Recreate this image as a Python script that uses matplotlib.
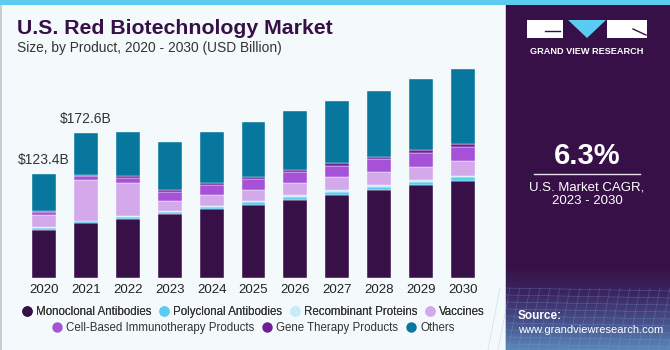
import numpy as np
import matplotlib
matplotlib.use("Agg")
import matplotlib.pyplot as plt
from matplotlib.patches import Rectangle, Polygon
from matplotlib.lines import Line2D

plt.rcParams['font.family'] = ['Liberation Sans', 'DejaVu Sans']

# ---------------- data (USD Billion) ----------------
years = ['2020', '2021', '2022', '2023', '2024', '2025',
         '2026', '2027', '2028', '2029', '2030']
monoclonal = [57.8, 65.3, 70.8, 76.7, 81.9, 87.0, 93.4, 99.3, 104.8, 110.8, 115.9]
polyclonal = [2.4, 2.4, 2.4, 2.4, 2.8, 4.0, 3.6, 3.6, 3.6, 3.6, 4.4]
recombinant = [1.2, 0.8, 1.2, 1.2, 1.2, 1.2, 2.0, 2.0, 2.0, 2.4, 1.6]
vaccines = [13.1, 48.3, 38.4, 11.9, 13.1, 12.7, 13.8, 15.0, 15.4, 15.8, 17.4]
cell_based = [3.6, 4.7, 6.3, 10.7, 11.5, 12.7, 13.4, 13.8, 15.4, 16.2, 16.6]
gene_therapy = [1.6, 1.2, 2.0, 2.4, 2.0, 2.4, 2.8, 3.2, 3.2, 3.6, 3.2]
others = [43.9, 49.9, 52.6, 56.6, 61.3, 65.3, 69.2, 73.6, 77.5, 84.3, 89.0]

segment_names = ['Monoclonal Antibodies', 'Polyclonal Antibodies', 'Recombinant Proteins',
                 'Vaccines', 'Cell-Based Immunotherapy Products', 'Gene Therapy Products',
                 'Others']
segment_values = [monoclonal, polyclonal, recombinant, vaccines,
                  cell_based, gene_therapy, others]
segment_colors = ['#361046', '#5ccbf2', '#c6ecfa', '#d4a9ec', '#a552d9', '#6d1f95', '#08779e']

labels_idx = [0, 1]
labels_txt = ['$123.4B', '$172.6B']

# ---------------- figure ----------------
W, H = 670, 350
fig = plt.figure(figsize=(W / 100, H / 100), dpi=100)
fig.patch.set_facecolor('#f4f9fc')

# background decorations in pixel coordinates
bg = fig.add_axes([0, 0, 1, 1], zorder=0)
bg.set_xlim(0, W)
bg.set_ylim(H, 0)
bg.axis('off')
bg.add_patch(Rectangle((0, 0), W, 5, color='#5ccbf2', lw=0))
bg.add_patch(Rectangle((0, 5), 1.5, H, color='#c9ccd2', lw=0))
bg.add_patch(Rectangle((505, 5), 1.5, H, color='#c9ccd2', lw=0))
bg.add_patch(Rectangle((506, 5), W - 506, H - 5, color='#371047', lw=0))

# bottom gradient of the side panel (dark at top, bluish at bottom)
grad = np.linspace(1, 0, 80).reshape(-1, 1)
cmap = matplotlib.colors.LinearSegmentedColormap.from_list(
    'pnl', ['#371047', '#3b2560', '#46508a', '#5a86b8'])
bg.imshow(grad, extent=(506, W, H, 265), origin='lower', aspect='auto',
          cmap=cmap, zorder=1)
for yy in np.arange(288, H, 7):
    bg.plot([506, W], [yy, yy + 3], color='#8aa6d6', lw=0.4, alpha=0.4, zorder=2)
for xx in np.arange(500, W + 20, 10):
    bg.plot([xx, xx - 12], [288, H], color='#8aa6d6', lw=0.4, alpha=0.4, zorder=2)
bg.set_xlim(0, W)
bg.set_ylim(H, 0)

# logo
bg.add_patch(Rectangle((527, 20), 36, 18, color='white', lw=0, zorder=3))
bg.add_patch(Rectangle((607, 20), 40, 18, color='white', lw=0, zorder=3))
bg.add_patch(Polygon([(568, 20), (606, 20), (587, 38)], closed=True,
                     color='#5ccbf2', lw=0, zorder=3))
bg.plot([545, 560], [31, 31], color='#371047', lw=1, zorder=4)
bg.plot([633, 646], [29, 35], color='#371047', lw=1, zorder=4)
bg.text(587, 51, 'GRAND VIEW RESEARCH', color='white', fontsize=6.6,
        fontweight='bold', ha='center', va='center', zorder=4)

bg.text(587, 156, '6.3%', color='white', fontsize=21, fontweight='bold',
        ha='center', va='center', zorder=4)
bg.plot([534, 640], [173.5, 173.5], color='#e8e0ee', lw=1, zorder=4)
bg.text(587, 187, 'U.S. Market CAGR,', color='white', fontsize=9.5,
        ha='center', va='center', zorder=4)
bg.text(587, 201, '2023 - 2030', color='white', fontsize=9.5,
        ha='center', va='center', zorder=4)
bg.text(518, 316, 'Source:', color='white', fontsize=8.5, fontweight='bold',
        ha='left', va='center', zorder=4)
bg.text(518, 330, 'www.grandviewresearch.com', color='white', fontsize=8.0,
        ha='left', va='center', zorder=4)

# titles
bg.text(17, 28, 'U.S. Red Biotechnology Market', color='#371047', fontsize=15.3,
        fontweight='bold', ha='left', va='center')
bg.text(17, 48, 'Size, by Product, 2020 - 2030 (USD Billion)', color='#333333',
        fontsize=9.9, ha='left', va='center')

# ---------------- bars ----------------
step = 41.9
x0 = 44 - 0.5 * step
base_y = H - 278.3
ppb = 0.843  # pixels per billion
ax = fig.add_axes([x0 / W, base_y / H, 11 * step / W, 250 / H], zorder=2)
ax.set_xlim(-0.5, 10.5)
ax.set_ylim(0, 250 / ppb)
ax.patch.set_alpha(0)
for s in ax.spines.values():
    s.set_visible(False)
ax.set_yticks([])

x = np.arange(len(years))
bottom = np.zeros(len(years))
for vals, col in zip(segment_values, segment_colors):
    ax.bar(x, vals, 0.57, bottom=bottom, color=col, edgecolor='#f4f9fc',
           linewidth=0.3)
    bottom += np.array(vals)

ax.set_xticks(x)
ax.set_xticklabels(years, fontsize=9.5, color='#222222')
ax.tick_params(axis='x', length=0, pad=4)

for i, t in zip(labels_idx, labels_txt):
    ax.annotate(t, (x[i], bottom[i]), xytext=(0, 5), textcoords='offset points',
                ha='center', va='bottom', fontsize=10, color='#333333')

# ---------------- legend ----------------
handles = [Line2D([], [], marker='o', ls='', markersize=6.5, color=c) for c in segment_colors]
leg1 = fig.legend(handles[:4], segment_names[:4], ncol=4, loc='center',
                  bbox_to_anchor=(253 / W, 1 - 312 / H), frameon=False,
                  fontsize=8.3, handletextpad=0.3, columnspacing=0.6,
                  labelcolor='#333333', handlelength=1.0)
fig.add_artist(leg1)
fig.legend(handles[4:], segment_names[4:], ncol=3, loc='center',
           bbox_to_anchor=(253 / W, 1 - 328 / H), frameon=False,
           fontsize=8.3, handletextpad=0.3, columnspacing=0.6,
           labelcolor='#333333', handlelength=1.0)

fig.savefig('out.png', dpi=100, facecolor=fig.get_facecolor())
